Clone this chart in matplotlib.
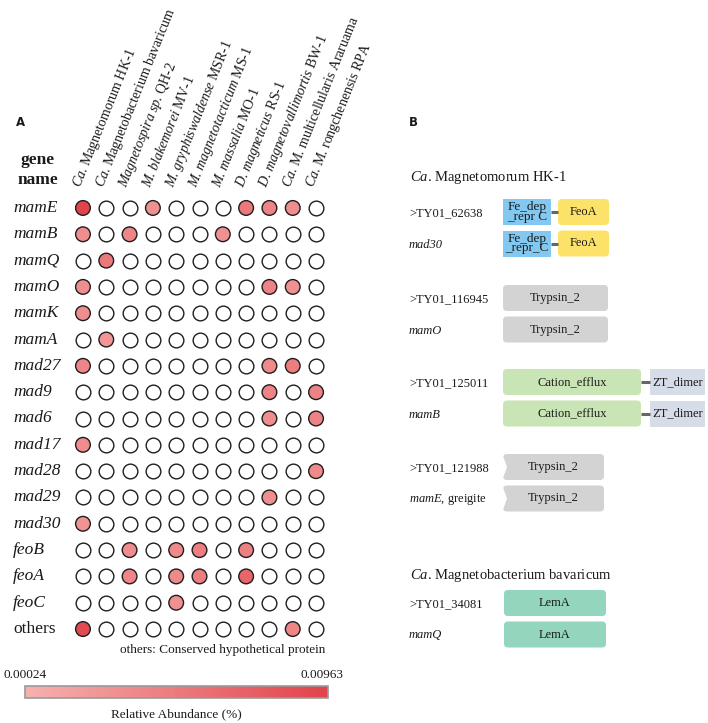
import numpy as np
import matplotlib
matplotlib.use("Agg")
import matplotlib.pyplot as plt
from matplotlib.colors import LinearSegmentedColormap, Normalize
from matplotlib.cm import ScalarMappable
from matplotlib.patches import FancyBboxPatch, Rectangle, Polygon

plt.rcParams["font.family"] = ["Liberation Serif", "DejaVu Serif"]
plt.rcParams["mathtext.fontset"] = "custom"
plt.rcParams["mathtext.rm"] = "Liberation Serif"
plt.rcParams["mathtext.it"] = "Liberation Serif:italic"
plt.rcParams["text.color"] = "#1a1a1a"

# ---- panel A data ----
# periods kept outside the math blocks, mathtext pads them oddly
species = [
    r"$\mathit{Ca}$. Magnetomorum HK-1",
    r"$\mathit{Ca}$. Magnetobacterium bavaricum",
    r"$\mathit{Magnetospira}$ $\mathit{sp}$. QH-2",
    r"$\mathit{M}$. $\mathit{blakemorei}$ MV-1",
    r"$\mathit{M}$. $\mathit{gryphiswaldense}$ MSR-1",
    r"$\mathit{M}$. $\mathit{magnetotacticum}$ MS-1",
    r"$\mathit{M}$. $\mathit{massalia}$ MO-1",
    r"$\mathit{D}$. $\mathit{magneticus}$ RS-1",
    r"$\mathit{D}$. $\mathit{magnetovallimortis}$ BW-1",
    r"$\mathit{Ca}$. M. multicellularis Araruama",
    r"$\mathit{Ca}$. M. rongchenensis RPA",
]
genes = ["mamE", "mamB", "mamQ", "mamO", "mamK", "mamA", "mad27", "mad9", "mad6",
         "mad17", "mad28", "mad29", "mad30", "feoB", "feoA", "feoC", "others"]

# relative abundance (%), 0 = not detected
mamE = [0.0096, 0, 0, 0.0030, 0, 0, 0, 0.0050, 0.0042, 0.0032, 0]
mamB = [0.0032, 0, 0.0040, 0, 0, 0, 0.0030, 0, 0, 0, 0]
mamQ = [0, 0.0050, 0, 0, 0, 0, 0, 0, 0, 0, 0]
mamO = [0.0032, 0, 0, 0, 0, 0, 0, 0, 0.0042, 0.0030, 0]
mamK = [0.0032, 0, 0, 0, 0, 0, 0, 0, 0, 0, 0]
mamA = [0, 0.0026, 0, 0, 0, 0, 0, 0, 0, 0, 0]
mad27 = [0.0040, 0, 0, 0, 0, 0, 0, 0, 0.0036, 0.0046, 0]
mad9 = [0, 0, 0, 0, 0, 0, 0, 0, 0.0042, 0, 0.0042]
mad6 = [0, 0, 0, 0, 0, 0, 0, 0, 0.0032, 0, 0.0042]
mad17 = [0.0034, 0, 0, 0, 0, 0, 0, 0, 0, 0, 0]
mad28 = [0, 0, 0, 0, 0, 0, 0, 0, 0, 0, 0.0036]
mad29 = [0, 0, 0, 0, 0, 0, 0, 0, 0.0032, 0, 0]
mad30 = [0.0028, 0, 0, 0, 0, 0, 0, 0, 0, 0, 0]
feoB = [0, 0, 0.0034, 0, 0.0036, 0.0046, 0, 0.0044, 0, 0, 0]
feoA = [0, 0, 0.0040, 0, 0.0036, 0.0046, 0, 0.0066, 0, 0, 0]
feoC = [0, 0, 0, 0, 0.0030, 0, 0, 0, 0, 0, 0]
others = [0.0090, 0, 0, 0, 0, 0, 0, 0, 0, 0.0040, 0]
abund = np.array([mamE, mamB, mamQ, mamO, mamK, mamA, mad27, mad9, mad6,
                  mad17, mad28, mad29, mad30, feoB, feoA, feoC, others])
vmin, vmax = 0.00024, 0.00963

# ---- panel B data ----
query_ids = [">TY01_62638", ">TY01_116945", ">TY01_125011", ">TY01_121988", ">TY01_34081"]
ref_genes = ["mad30", "mamO", "mamB", r"$\mathit{mamE}$, greigite", "mamQ"]
organisms = [r"$\mathit{Ca}$. Magnetomorum HK-1", r"$\mathit{Ca}$. Magnetobacterium bavaricum"]
# domains: (name on query row, name on ref row, start, end, colour, shape)
domains = [
    [("Fe_dep\n_repr C", "Fe_dep\n_repr_C", 0, 48, "#82c8f0", "square"),
     ("FeoA", "FeoA", 55, 106, "#fde26a", "round")],
    [("Trypsin_2", "Trypsin_2", 0, 105, "#d3d3d3", "round")],
    [("Cation_efflux", "Cation_efflux", 0, 138, "#c9e5b5", "round"),
     ("ZT_dimer", "ZT_dimer", 147, 202, "#d6dce8", "square")],
    [("Trypsin_2", "Trypsin_2", 0, 101, "#d3d3d3", "notch")],
    [("LemA", "LemA", 1, 103, "#94d5be", "round")],
]

W, H = 708, 723
fig = plt.figure(figsize=(W / 100, H / 100), dpi=100)


def fx(px):
    return px / W


def fy(py):
    return 1 - py / H


# ---- panel A ----
ax = fig.add_axes([fx(71.3), fy(642.2), fx(256.4), 447.4 / H])
ax.set_xlim(-0.5, 10.5)
ax.set_ylim(len(genes) - 0.5, -0.5)
ax.axis("off")

cmap = LinearSegmentedColormap.from_list("ab", ["#f6b1af", "#e1434a"])
norm = Normalize(vmin, vmax)
rows, cols = np.indices(abund.shape)
present = abund > 0
ax.scatter(cols[~present], rows[~present], s=112, facecolor="white",
           edgecolor="#1e1e1e", linewidth=1.0, clip_on=False)
ax.scatter(cols[present], rows[present], s=112, c=abund[present], cmap=cmap, norm=norm,
           edgecolor="#1e1e1e", linewidth=1.0, clip_on=False)

for i, g in enumerate(genes):
    style = "normal" if g == "others" else "italic"
    ax.text(-3.0, i, g, ha="left", va="center", fontsize=12.5, style=style)

for j, sp in enumerate(species):
    ax.text(j - 0.12, -0.75, sp, rotation=68, rotation_mode="anchor",
            ha="left", va="baseline", fontsize=10)

fig.text(fx(38), fy(170), "gene\nname", ha="center", va="center", fontsize=12.5,
         fontweight="bold", linespacing=1.25)
fig.text(fx(21), fy(123), "A", ha="center", va="center", fontsize=8.5,
         fontweight="bold", family="DejaVu Sans")
fig.text(fx(325), fy(650), "others: Conserved hypothetical protein", ha="right",
         va="center", fontsize=9.5)

cax = fig.add_axes([fx(25), fy(698), fx(303), 12 / H])
cb = fig.colorbar(ScalarMappable(norm=norm, cmap=cmap), cax=cax, orientation="horizontal")
cb.set_ticks([])
cb.outline.set_edgecolor("#9a9a9a")
cb.outline.set_linewidth(1.2)
fig.text(fx(3), fy(675), f"{vmin:.5f}", ha="left", va="center", fontsize=9.5)
fig.text(fx(343), fy(675), f"{vmax:.5f}", ha="right", va="center", fontsize=9.5)
fig.text(fx(176), fy(714), "Relative Abundance (%)", ha="center", va="center", fontsize=9.5)

# ---- panel B ----
axb = fig.add_axes([fx(400), 0, fx(308), 1])
axb.set_xlim(-103, 205)
axb.set_ylim(H, 0)
axb.axis("off")

fig.text(fx(413), fy(122), "B", ha="center", va="center", fontsize=8.5,
         fontweight="bold", family="DejaVu Sans")

pair_y = [212, 298, 382, 467, 603]
header_y = [177, 575]
row_gap = 31.5
box_h = 26

for k, org in enumerate(organisms):
    axb.text(-93, header_y[k], org, ha="left", va="center", fontsize=10.5)

for p, (qid, ref, doms) in enumerate(zip(query_ids, ref_genes, domains)):
    for r, lab in enumerate([qid, ref]):
        yc = pair_y[p] + r * row_gap
        style = "italic" if (r == 1 and "$" not in lab) else "normal"
        axb.text(-94, yc + 1, lab, ha="left", va="center", fontsize=9, style=style)
        for d, (nq, nr, x0, x1, col, sty) in enumerate(doms):
            name = nq if r == 0 else nr
            if d > 0:
                prev_end = doms[d - 1][3]
                axb.plot([prev_end, x0], [yc, yc], color="#666666", lw=2.2,
                         solid_capstyle="butt")
            if sty == "square":
                patch = Rectangle((x0, yc - box_h / 2), x1 - x0, box_h,
                                  facecolor=col, edgecolor="none")
            else:
                patch = FancyBboxPatch((x0, yc - box_h / 2), x1 - x0, box_h,
                                       boxstyle="round,pad=0,rounding_size=4",
                                       facecolor=col, edgecolor="none")
            axb.add_patch(patch)
            if sty == "notch":
                axb.add_patch(Polygon([(x0 - 1, yc - box_h / 2 - 1), (x0 + 4, yc),
                                       (x0 - 1, yc + box_h / 2 + 1)],
                                      closed=True, facecolor="white", edgecolor="none"))
            fs = 9.5 if "\n" in name else 9
            axb.text((x0 + x1) / 2, yc, name, ha="center", va="center",
                     fontsize=fs, linespacing=0.75)

fig.savefig("out.png", dpi=100, facecolor="white")
